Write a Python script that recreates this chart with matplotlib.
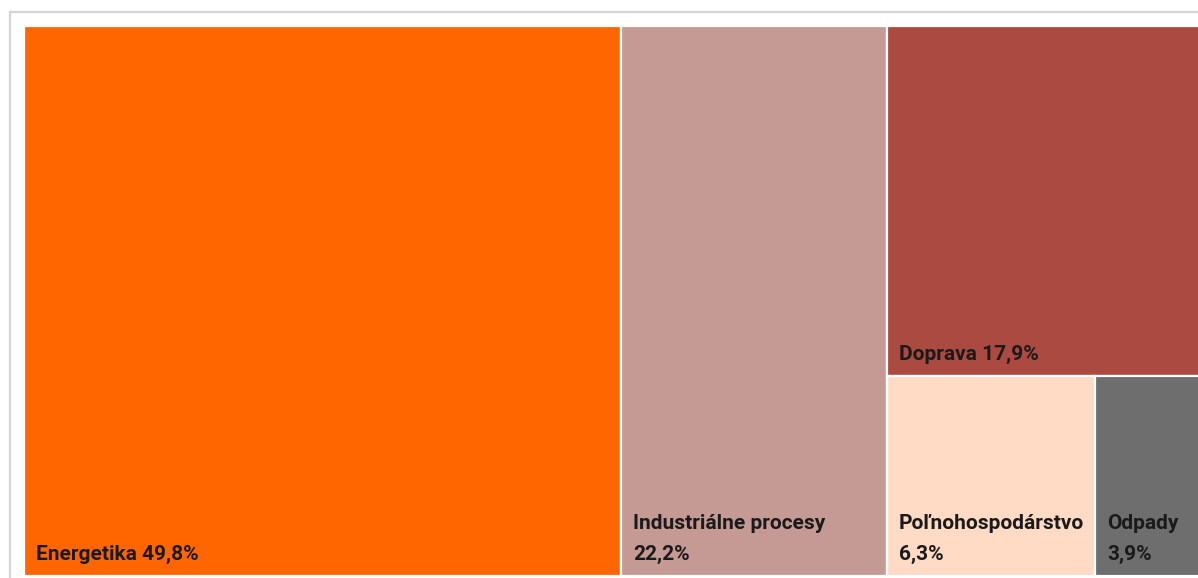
import matplotlib
matplotlib.use('Agg')
from matplotlib import pyplot as plt
from matplotlib.patches import Rectangle

# data
categories = ['Energetika', 'Industriálne procesy', 'Doprava', 'Poľnohospodárstvo', 'Odpady']
shares = [49.8, 22.2, 17.9, 6.3, 3.9]
share_labels = ['49,8%', '22,2%', '17,9%', '6,3%', '3,9%']
two_lines = [False, True, False, True, True]
colors = ['#FF6600', '#C69A94', '#AB4A40', '#FFDAC5', '#6E6E6E']

plt.rcParams['font.family'] = ['Roboto', 'DejaVu Sans']

W, H = 1198, 578
fig = plt.figure(figsize=(W / 100, H / 100), dpi=100)

# outer frame (light grey), partly running off the canvas
fig.patches.append(Rectangle((9.5 / W, -0.05), 1.2, (H - 11.5) / H + 0.05,
                             transform=fig.transFigure, fill=False,
                             edgecolor='#D6D6D6', linewidth=1.6))

# plot area: left 24px, top 26px, full width ~1200px (cut at the right edge)
ax = fig.add_axes([24 / W, 2 / H, 1200 / W, 550 / H])
ax.set_xlim(0, 1)
ax.set_ylim(0, 1)
ax.axis('off')

total = sum(shares)

# layout: first two items as full-height columns, the rest share the last column
rects = []
x = 0.0
for v in shares[:2]:
    w = v / total
    rects.append((x, 0.0, w, 1.0))
    x += w
rest = shares[2:]
col_w = 1.0 - x
rest_total = sum(rest)
h_top = rest[0] / rest_total
rects.append((x, 1.0 - h_top, col_w, h_top))
bottom_total = sum(rest[1:])
bx = x
for v in rest[1:]:
    w = col_w * v / bottom_total
    rects.append((bx, 0.0, w, 1.0 - h_top))
    bx += w

for (x0, y0, w, h), c, name, pct, wrap in zip(rects, colors, categories, share_labels, two_lines):
    ax.add_patch(Rectangle((x0, y0), w, h, facecolor=c, edgecolor='white', linewidth=1.6))
    lines = [name, pct] if wrap else [name + ' ' + pct]
    for k, line in enumerate(reversed(lines)):
        ax.annotate(line, xy=(x0, y0), xytext=(8.5, 11.5 + k * 22.3), textcoords='offset points',
                    ha='left', va='baseline', fontsize=15, fontweight='bold', color='#1A1A1A')

fig.savefig('out.png', dpi=100)
